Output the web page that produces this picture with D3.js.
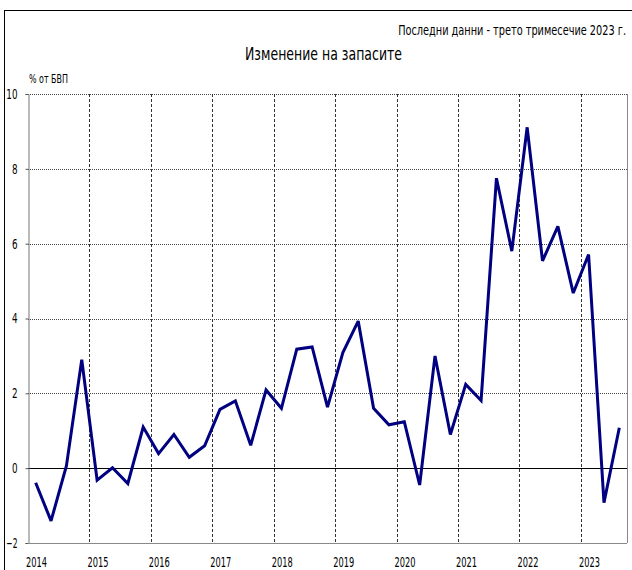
<!DOCTYPE html>
<html>
<head>
<meta charset="utf-8">
<script src="https://cdn.jsdelivr.net/npm/d3@7/dist/d3.min.js"></script>
<style>
  html, body { margin: 0; padding: 0; background: #fff; }
  svg { display: block; }
  text { font-family: "DejaVu Sans Condensed", "DejaVu Sans", sans-serif; font-stretch: condensed; fill: #000; }
</style>
</head>
<body>
<svg id="chart" width="632" height="570"></svg>
<script>
const years = ["2014","2015","2016","2017","2018","2019","2020","2021","2022","2023"];
const quarters = [];
years.forEach(yr => ["Q1","Q2","Q3","Q4"].forEach(q => quarters.push(yr + q)));
const periods = quarters.slice(0, 39); // last data: Q3 2023
const values = [
  -0.39, -1.41, 0.06, 2.90,
  -0.32, 0.01, -0.41, 1.10,
  0.39, 0.90, 0.29, 0.60,
  1.57, 1.80, 0.61, 2.09,
  1.60, 3.18, 3.24, 1.63,
  3.09, 3.93, 1.60, 1.16,
  1.24, -0.45, 3.00, 0.90,
  2.24, 1.81, 7.75, 5.80,
  9.11, 5.54, 6.46, 4.68,
  5.71, -0.92, 1.08
];
const yTicks = [-2, 0, 2, 4, 6, 8, 10];
const titleText = "Изменение на запасите";
const subtitleText = "Последни данни - трето тримесечие 2023 г.";
const unitText = "% от БВП";

(function () {
const svg = d3.select("#chart");
const pL = 28, pR = 627, pT = 94, pB = 543;

const x = d3.scaleBand().domain(periods).range([pL, pR]).paddingInner(0).paddingOuter(0);
const y = d3.scaleLinear().domain([-2, 10]).range([pB, pT]);

// outer frame (top and left edges visible)
svg.append("rect").attr("x", 4.5).attr("y", 10.5).attr("width", 700).attr("height", 700)
  .attr("fill", "none").attr("stroke", "#000").attr("stroke-width", 1);

// subtitle (horizontally squeezed to match the narrow original font)
const sg = svg.append("g");
const st = sg.append("text").attr("x", 0).attr("y", 0).attr("text-anchor", "end")
  .attr("font-size", 14).text(subtitleText);
const natW = st.node().getComputedTextLength();
sg.attr("transform", `translate(626,35) scale(${228 / natW},1)`);

svg.append("text").attr("x", 245).attr("y", 60)
  .attr("font-size", 18).attr("textLength", 157).attr("lengthAdjust", "spacingAndGlyphs")
  .text(titleText);
svg.append("text").attr("x", 29).attr("y", 83)
  .attr("font-size", 12).attr("textLength", 39).attr("lengthAdjust", "spacingAndGlyphs")
  .text(unitText);

// horizontal gridlines
svg.append("g").selectAll("line").data(yTicks.filter(d => d !== 0)).join("line")
  .attr("x1", pL).attr("x2", pR)
  .attr("y1", d => Math.round(y(d)) + 0.5).attr("y2", d => Math.round(y(d)) + 0.5)
  .attr("stroke", "#444").attr("stroke-width", 1).attr("stroke-dasharray", "1,1");

// vertical gridlines at year boundaries
const yearStarts = years.map(yr => yr + "Q1").filter(q => periods.includes(q)).slice(1);
svg.append("g").selectAll("line").data(yearStarts).join("line")
  .attr("x1", d => Math.round(x(d)) + 0.5).attr("x2", d => Math.round(x(d)) + 0.5)
  .attr("y1", pT).attr("y2", pB)
  .attr("stroke", "#333").attr("stroke-width", 1).attr("stroke-dasharray", "3,2");

// right edge
svg.append("line").attr("x1", pR + 0.5).attr("x2", pR + 0.5).attr("y1", pT).attr("y2", pB)
  .attr("stroke", "#888");

// zero line
svg.append("line").attr("x1", pL).attr("x2", pR)
  .attr("y1", Math.round(y(0)) + 0.5).attr("y2", Math.round(y(0)) + 0.5)
  .attr("stroke", "#000").attr("stroke-width", 1.2);

// y axis
const yAxis = d3.axisLeft(y).tickValues(yTicks).tickSize(3).tickPadding(8).tickFormat(d3.format("d"));
const gy = svg.append("g").attr("transform", `translate(${pL + 0.5},0)`).call(yAxis);
gy.select(".domain").attr("stroke", "#777");
gy.selectAll(".tick line").attr("stroke", "#555");
gy.selectAll(".tick text").attr("font-size", 14)
  .attr("textLength", d => String(d).length * 5.6).attr("lengthAdjust", "spacingAndGlyphs")
  .style("font-family", "'DejaVu Sans', sans-serif");

// bottom axis line
svg.append("line").attr("x1", pL).attr("x2", pR)
  .attr("y1", pB + 0.5).attr("y2", pB + 0.5).attr("stroke", "#888");

// x labels
svg.append("g").selectAll("text").data(years.filter(yr => periods.includes(yr + "Q1"))).join("text")
  .attr("x", d => x(d + "Q1") - 2)
  .attr("y", 567)
  .attr("font-size", 14)
  .attr("textLength", 21).attr("lengthAdjust", "spacingAndGlyphs")
  .text(d => d);

// line
const line = d3.line().x((d, i) => x(periods[i]) + x.bandwidth() / 2).y(d => y(d));
svg.append("path").datum(values).attr("d", line)
  .attr("fill", "none").attr("stroke", "#000080").attr("stroke-width", 3)
  .attr("stroke-linejoin", "miter").attr("stroke-miterlimit", 3);
})();
</script>
</body>
</html>
